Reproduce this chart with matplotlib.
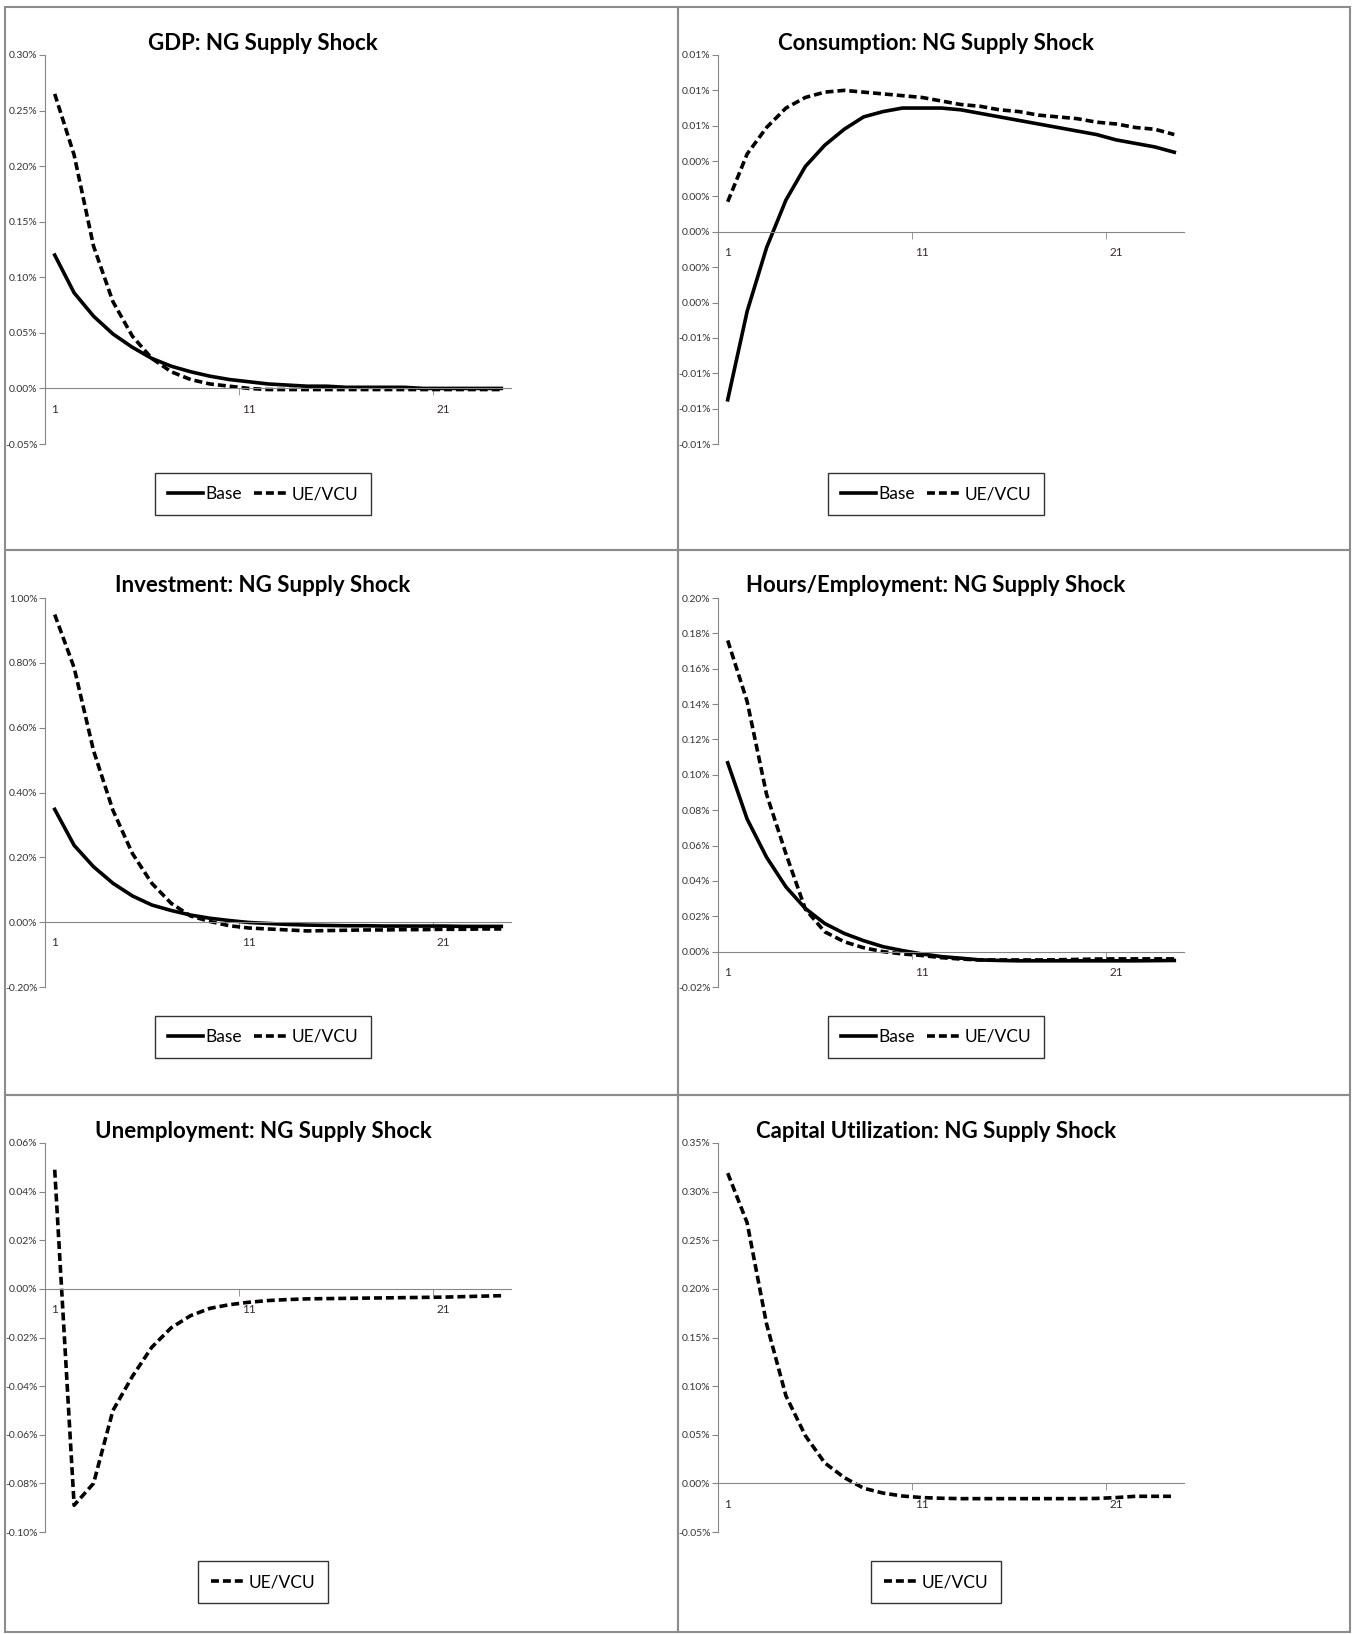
import matplotlib
matplotlib.use("Agg")
import matplotlib.pyplot as plt
from matplotlib.patches import Rectangle
from matplotlib.ticker import FixedLocator, FuncFormatter
import numpy as np

# periods after the shock
periods = list(range(1, 25))

# values in percent
gdp_base = [0.120, 0.086, 0.065, 0.049, 0.037, 0.027, 0.020, 0.015, 0.011, 0.008, 0.006, 0.004,
            0.003, 0.002, 0.002, 0.001, 0.001, 0.001, 0.001, 0.000, 0.000, 0.000, 0.000, 0.000]
gdp_ue = [0.265, 0.210, 0.128, 0.078, 0.047, 0.027, 0.015, 0.008, 0.004, 0.002, 0.000, -0.001,
          -0.001, -0.001, -0.001, -0.001, -0.001, -0.001, -0.001, -0.001, -0.001, -0.001, -0.001, -0.001]

cons_base = [-0.0095, -0.0045, -0.0009, 0.0018, 0.0037, 0.0049, 0.0058, 0.0065, 0.0068, 0.0070,
             0.0070, 0.0070, 0.0069, 0.0067, 0.0065, 0.0063, 0.0061, 0.0059, 0.0057, 0.0055,
             0.0052, 0.0050, 0.0048, 0.0045]
cons_ue = [0.0017, 0.0044, 0.0059, 0.0070, 0.0076, 0.0079, 0.0080, 0.0079, 0.0078, 0.0077,
           0.0076, 0.0074, 0.0072, 0.0071, 0.0069, 0.0068, 0.0066, 0.0065, 0.0064, 0.0062,
           0.0061, 0.0059, 0.0058, 0.0055]

inv_base = [0.348, 0.237, 0.171, 0.120, 0.081, 0.053, 0.036, 0.022, 0.012, 0.005, -0.001, -0.004,
            -0.007, -0.009, -0.010, -0.011, -0.011, -0.012, -0.012, -0.012, -0.012, -0.013, -0.013, -0.013]
inv_ue = [0.949, 0.785, 0.529, 0.345, 0.212, 0.120, 0.058, 0.019, 0.002, -0.011, -0.018, -0.021,
          -0.024, -0.027, -0.026, -0.025, -0.024, -0.024, -0.023, -0.023, -0.022, -0.022, -0.021, -0.021]

hours_base = [0.1068, 0.0750, 0.0534, 0.0366, 0.0244, 0.0159, 0.0103, 0.0062, 0.0028, 0.0006,
              -0.0013, -0.0028, -0.0037, -0.0047, -0.0050, -0.0052, -0.0052, -0.0052, -0.0052,
              -0.0052, -0.0052, -0.0052, -0.0051, -0.0050]
hours_ue = [0.1760, 0.1415, 0.0890, 0.0553, 0.0240, 0.0112, 0.0056, 0.0022, 0.0000, -0.0013,
            -0.0022, -0.0034, -0.0042, -0.0047, -0.0047, -0.0047, -0.0047, -0.0046, -0.0044,
            -0.0042, -0.0041, -0.0041, -0.0041, -0.0041]

unemp_ue = [0.049, -0.089, -0.080, -0.050, -0.036, -0.024, -0.016, -0.011, -0.008, -0.0065,
            -0.0055, -0.0048, -0.0044, -0.0041, -0.0040, -0.0039, -0.0038, -0.0037, -0.0036,
            -0.0035, -0.0034, -0.0032, -0.0030, -0.0028]

caput_ue = [0.319, 0.268, 0.164, 0.090, 0.049, 0.021, 0.006, -0.005, -0.010, -0.013, -0.0146,
            -0.0153, -0.0157, -0.0157, -0.0157, -0.0157, -0.0157, -0.0157, -0.0157, -0.0155,
            -0.0146, -0.0133, -0.0133, -0.0133]

titles = ["GDP: NG Supply Shock", "Consumption: NG Supply Shock",
          "Investment: NG Supply Shock", "Hours/Employment: NG Supply Shock",
          "Unemployment: NG Supply Shock", "Capital Utilization: NG Supply Shock"]

panels = [
    (titles[0], 0, 0, (-0.05, 0.30), 0.05, [("Base", gdp_base), ("UE/VCU", gdp_ue)]),
    (titles[1], 1, 0, (-0.012, 0.010), 0.002, [("Base", cons_base), ("UE/VCU", cons_ue)]),
    (titles[2], 0, 1, (-0.20, 1.00), 0.20, [("Base", inv_base), ("UE/VCU", inv_ue)]),
    (titles[3], 1, 1, (-0.02, 0.20), 0.02, [("Base", hours_base), ("UE/VCU", hours_ue)]),
    (titles[4], 0, 2, (-0.10, 0.06), 0.02, [("UE/VCU", unemp_ue)]),
    (titles[5], 1, 2, (-0.05, 0.35), 0.05, [("UE/VCU", caput_ue)]),
]

W, H = 1352, 1634
col_x = [5, 678, 1350]
row_y = [7, 550, 1095, 1632]
FONT = ["Lato", "DejaVu Sans"]
GRAY = "#868686"

fig = plt.figure(figsize=(W / 100, H / 100), dpi=100)


def pct(v, pos):
    v = round(v, 2) + 0.0
    return f"{v:.2f}%"


for title, c, r, ylim, step, series in panels:
    px0, px1 = col_x[c], col_x[c + 1]
    py0, py1 = row_y[r], row_y[r + 1]

    # panel border
    fig.add_artist(Rectangle((px0 / W, 1 - py1 / H), (px1 - px0) / W, (py1 - py0) / H,
                             transform=fig.transFigure, fill=False, edgecolor="#8c8c8c", lw=1.5))

    left, right = px0 + 40, px0 + 506
    top, bottom = py0 + 48, py0 + 437
    ax = fig.add_axes([left / W, 1 - bottom / H, (right - left) / W, (bottom - top) / H])

    for name, vals in series:
        ls = "-" if name == "Base" else (0, (2.2, 1.1))
        ax.plot(periods, vals, color="black", lw=2.6, linestyle=ls, label=name)

    ax.set_xlim(0.5, 24.5)
    ax.set_ylim(*ylim)
    ax.yaxis.set_major_locator(FixedLocator(np.arange(ylim[0], ylim[1] + step / 2, step)))
    ax.yaxis.set_major_formatter(FuncFormatter(pct))

    for s in ["top", "right"]:
        ax.spines[s].set_visible(False)
    ax.spines["left"].set_color(GRAY)
    ax.spines["bottom"].set_color(GRAY)
    ax.spines["bottom"].set_position(("data", 0))

    ax.set_xticks([1, 11, 21])
    ax.set_xticklabels(["1", "11", "21"])
    ax.set_xticks([10.5, 20.5], minor=True)
    ax.tick_params(axis="x", which="major", length=0, pad=11, labelsize=8.5, labelcolor="#3a2a2a")
    ax.tick_params(axis="x", which="minor", length=5, direction="out", color=GRAY)
    ax.tick_params(axis="y", length=4, pad=1.5, direction="out", color=GRAY, labelsize=7.5,
                   labelcolor="#333333")
    for lab in ax.get_xticklabels() + ax.get_yticklabels():
        lab.set_family(FONT)

    fig.text((px0 + 258) / W, 1 - (py0 + 36) / H, title, ha="center", va="center",
             fontsize=16, fontweight="bold", family=FONT)

    leg = ax.legend(loc="center", bbox_to_anchor=((px0 + 258) / W, 1 - (py0 + 487) / H),
                    bbox_transform=fig.transFigure, ncol=2, frameon=True, fancybox=False,
                    edgecolor="black", handlelength=2.0, handletextpad=0.15, columnspacing=0.7,
                    borderpad=0.75, prop={"family": FONT, "size": 12.5})
    leg.get_frame().set_linewidth(1.0)

fig.savefig("out.png", dpi=100)
